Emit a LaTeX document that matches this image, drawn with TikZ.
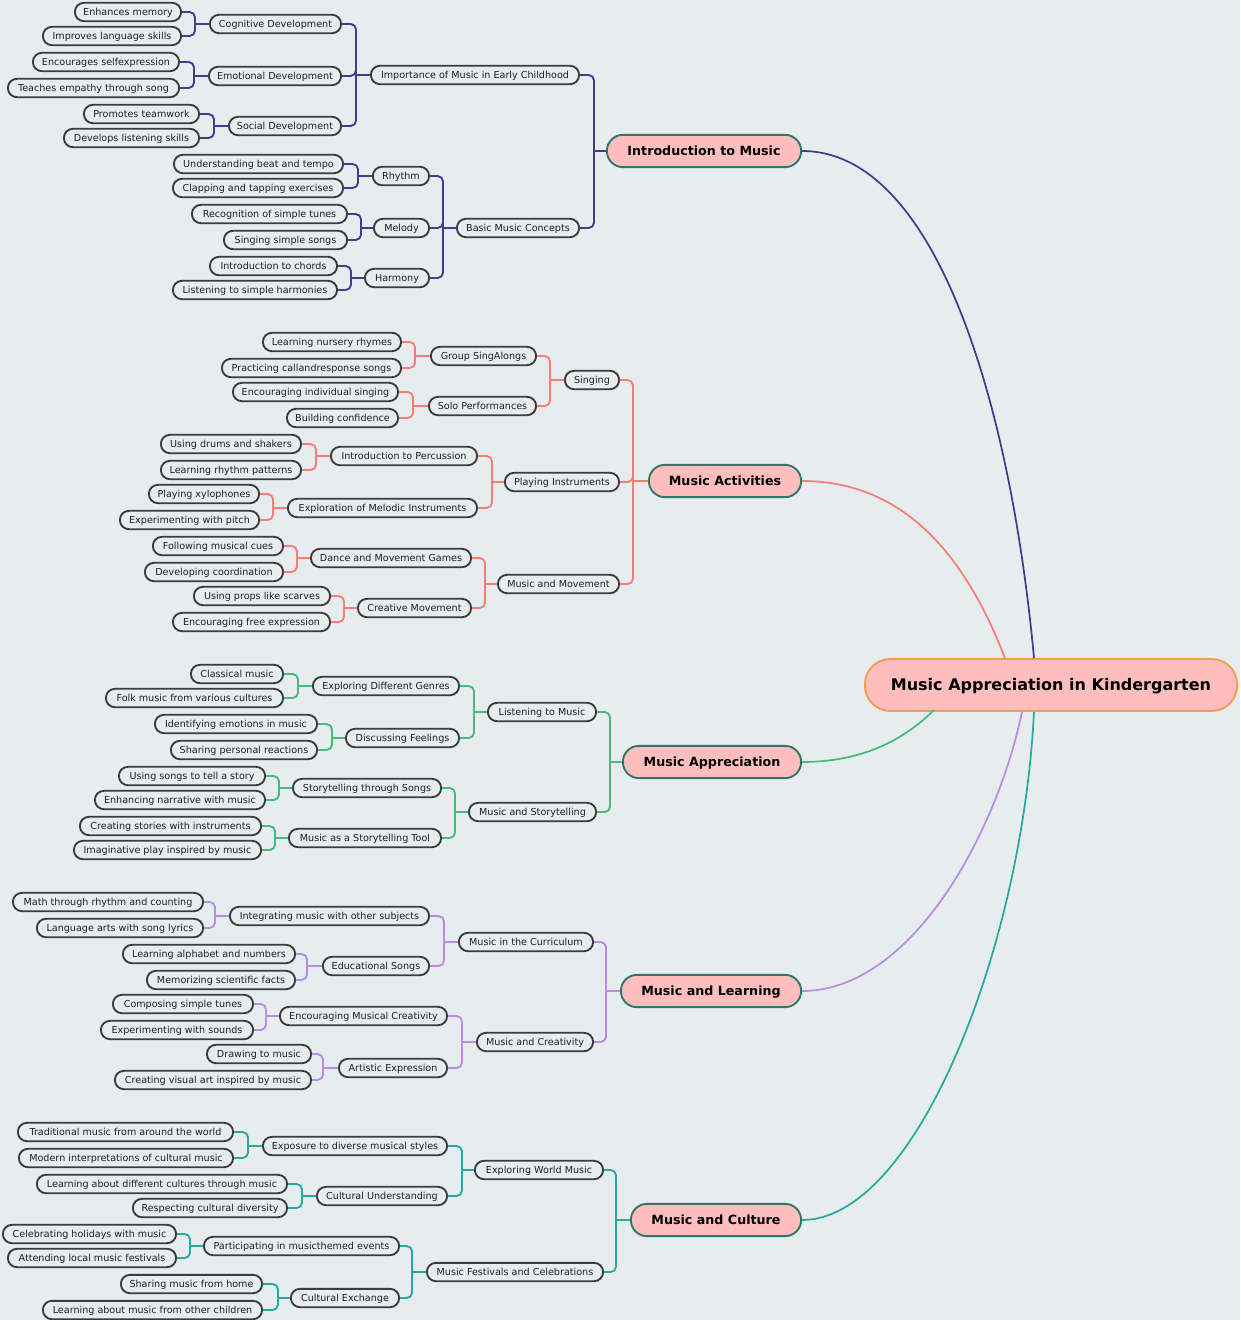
\documentclass[tikz,border=0pt]{standalone}
\usepackage{fontspec}
\setmainfont{DejaVu Sans}
\usetikzlibrary{calc}
\definecolor{cBlue}{RGB}{62,62,140}
\definecolor{cCoral}{RGB}{250,124,118}
\definecolor{cGreen}{RGB}{66,188,122}
\definecolor{cPurple}{RGB}{186,140,226}
\definecolor{cTeal}{RGB}{38,170,160}
\definecolor{cBg}{RGB}{231,236,239}
\definecolor{cBorder}{RGB}{60,60,60}
\definecolor{cPink}{RGB}{255,190,190}
\definecolor{cTopic}{RGB}{48,118,102}
\definecolor{cRoot}{RGB}{240,158,78}
\tikzset{
  leaf/.style={draw=cBorder, fill=cBg, line width=1.4pt, rounded corners=6.8pt, minimum height=13.8pt, inner sep=0pt, text height=6.1pt, text depth=0.6pt, text=black!88, font=\fontsize{7.2}{8}\selectfont},
  topic/.style={draw=cTopic, fill=cPink, line width=1.4pt, rounded corners=12pt, minimum height=24.2pt, inner sep=0pt, text height=7.5pt, text depth=0.5pt, text=black, font=\bfseries\fontsize{9.5}{11}\selectfont},
  rootn/.style={draw=cRoot, fill=cPink, line width=1.4pt, rounded corners=19pt, minimum height=39pt, inner sep=0pt, text height=9.2pt, text depth=0.4pt, text=black, font=\bfseries\fontsize{12}{14}\selectfont},
  conn/.style={line width=1.4pt, rounded corners=4pt},
  curve/.style={line width=1.3pt},
}
\newcommand\mmnode[6][leaf]{%
  \pgfmathsetmacro\mmw{(#4-#3-1.8)*0.75}%
  \pgfmathsetmacro\mmx{(#3+#4)/2}%
  \node[#1, minimum width=\mmw pt] (#2) at (\mmx,#5) {#6};}
\newcommand\mmlink[4]{%
  \coordinate (#2j) at (#3,0 |- #2.west);
  \foreach \cc in {#4} {\draw[conn,#1] (\cc.east) -| (#2j);}
  \draw[conn,#1] (#2j) -- (#2.west);}
\begin{document}
\begin{tikzpicture}[x=0.75pt,y=-0.75pt]
\fill[cBg] (0,0) rectangle (1240,1320);
\useasboundingbox (0,0) rectangle (1240,1320);
% ---------- Introduction to Music ----------
\mmnode{a1}{74}{182}{12}{Enhances memory}
\mmnode{a2}{42}{182}{36}{Improves language skills}
\mmnode{A1}{209}{342}{24}{Cognitive Development}
\mmnode{a3}{32}{180}{62}{Encourages selfexpression}
\mmnode{a4}{7}{180}{88}{Teaches empathy through song}
\mmnode{A2}{208}{342}{76}{Emotional Development}
\mmnode{a5}{83}{200}{114}{Promotes teamwork}
\mmnode{a6}{63}{200}{138}{Develops listening skills}
\mmnode{A3}{228}{342}{126}{Social Development}
\mmnode{AA}{370}{580}{75}{Importance of Music in Early Childhood}
\mmnode{b1}{173}{344}{164}{Understanding beat and tempo}
\mmnode{b2}{172}{344}{188}{Clapping and tapping exercises}
\mmnode{B1}{372}{430}{176}{Rhythm}
\mmnode{b3}{191}{348}{214}{Recognition of simple tunes}
\mmnode{b4}{223}{348}{240}{Singing simple songs}
\mmnode{B2}{373}{430}{228}{Melody}
\mmnode{b5}{209}{338}{266}{Introduction to chords}
\mmnode{b6}{172}{338}{290}{Listening to simple harmonies}
\mmnode{B3}{364}{430}{278}{Harmony}
\mmnode{BB}{456}{580}{228}{Basic Music Concepts}
\mmnode[topic]{T1}{606}{802}{151}{Introduction to Music}
\mmlink{cBlue}{A1}{195}{a1,a2}
\mmlink{cBlue}{A2}{194}{a3,a4}
\mmlink{cBlue}{A3}{214}{a5,a6}
\mmlink{cBlue}{AA}{356}{A1,A2,A3}
\mmlink{cBlue}{B1}{358}{b1,b2}
\mmlink{cBlue}{B2}{361}{b3,b4}
\mmlink{cBlue}{B3}{351}{b5,b6}
\mmlink{cBlue}{BB}{443}{B1,B2,B3}
\mmlink{cBlue}{T1}{594}{AA,BB}
% ---------- Music Activities ----------
\mmnode{c1}{262}{402}{342}{Learning nursery rhymes}
\mmnode{c2}{221}{402}{368}{Practicing callandresponse songs}
\mmnode{C1}{430}{537}{356}{Group SingAlongs}
\mmnode{c3}{232}{399}{392}{Encouraging individual singing}
\mmnode{c4}{286}{399}{418}{Building confidence}
\mmnode{C2}{428}{537}{406}{Solo Performances}
\mmnode{CC}{564}{620}{380}{Singing}
\mmnode{c5}{160}{302}{444}{Using drums and shakers}
\mmnode{c6}{160}{302}{470}{Learning rhythm patterns}
\mmnode{C3}{330}{478}{456}{Introduction to Percussion}
\mmnode{c7}{148}{260}{494}{Playing xylophones}
\mmnode{c8}{119}{260}{520}{Experimenting with pitch}
\mmnode{C4}{287}{478}{508}{Exploration of Melodic Instruments}
\mmnode{CD}{504}{620}{482}{Playing Instruments}
\mmnode{c9}{152}{284}{546}{Following musical cues}
\mmnode{c10}{144}{284}{572}{Developing coordination}
\mmnode{C5}{310}{472}{558}{Dance and Movement Games}
\mmnode{c11}{193}{331}{596}{Using props like scarves}
\mmnode{c12}{172}{331}{622}{Encouraging free expression}
\mmnode{C6}{357}{472}{608}{Creative Movement}
\mmnode{CE}{497}{620}{584}{Music and Movement}
\mmnode[topic]{T2}{648}{802}{481}{Music Activities}
\mmlink{cCoral}{C1}{415}{c1,c2}
\mmlink{cCoral}{C2}{413}{c3,c4}
\mmlink{cCoral}{CC}{550}{C1,C2}
\mmlink{cCoral}{C3}{316}{c5,c6}
\mmlink{cCoral}{C4}{273}{c7,c8}
\mmlink{cCoral}{CD}{492}{C3,C4}
\mmlink{cCoral}{C5}{297}{c9,c10}
\mmlink{cCoral}{C6}{344}{c11,c12}
\mmlink{cCoral}{CE}{485}{C5,C6}
\mmlink{cCoral}{T2}{633}{CC,CD,CE}
% ---------- Music Appreciation ----------
\mmnode{d1}{190}{284}{674}{Classical music}
\mmnode{d2}{105}{284}{698}{Folk music from various cultures}
\mmnode{D1}{312}{460}{686}{Exploring Different Genres}
\mmnode{d3}{154}{318}{724}{Identifying emotions in music}
\mmnode{d4}{170}{318}{750}{Sharing personal reactions}
\mmnode{D2}{345}{460}{738}{Discussing Feelings}
\mmnode{DD}{487}{597}{712}{Listening to Music}
\mmnode{d5}{118}{266}{776}{Using songs to tell a story}
\mmnode{d6}{94}{266}{800}{Enhancing narrative with music}
\mmnode{D3}{292}{442}{788}{Storytelling through Songs}
\mmnode{d7}{79}{262}{826}{Creating stories with instruments}
\mmnode{d8}{73}{262}{850}{Imaginative play inspired by music}
\mmnode{D4}{288}{442}{838}{Music as a Storytelling Tool}
\mmnode{DE}{468}{597}{812}{Music and Storytelling}
\mmnode[topic]{T3}{622}{802}{762}{Music Appreciation}
\mmlink{cGreen}{D1}{298}{d1,d2}
\mmlink{cGreen}{D2}{332}{d3,d4}
\mmlink{cGreen}{DD}{474}{D1,D2}
\mmlink{cGreen}{D3}{279}{d5,d6}
\mmlink{cGreen}{D4}{275}{d7,d8}
\mmlink{cGreen}{DE}{455}{D3,D4}
\mmlink{cGreen}{T3}{610}{DD,DE}
% ---------- Music and Learning ----------
\mmnode{e1}{12}{204}{902}{Math through rhythm and counting}
\mmnode{e2}{36}{204}{928}{Language arts with song lyrics}
\mmnode{E1}{229}{430}{916}{Integrating music with other subjects}
\mmnode{e3}{122}{296}{954}{Learning alphabet and numbers}
\mmnode{e4}{146}{296}{980}{Memorizing scientific facts}
\mmnode{E2}{322}{430}{966}{Educational Songs}
\mmnode{EE}{458}{594}{942}{Music in the Curriculum}
\mmnode{e5}{112}{254}{1004}{Composing simple tunes}
\mmnode{e6}{100}{254}{1030}{Experimenting with sounds}
\mmnode{E3}{279}{448}{1016}{Encouraging Musical Creativity}
\mmnode{e7}{206}{312}{1054}{Drawing to music}
\mmnode{e8}{114}{312}{1080}{Creating visual art inspired by music}
\mmnode{E4}{338}{448}{1068}{Artistic Expression}
\mmnode{EF}{476}{594}{1042}{Music and Creativity}
\mmnode[topic]{T4}{620}{802}{991}{Music and Learning}
\mmlink{cPurple}{E1}{215}{e1,e2}
\mmlink{cPurple}{E2}{307}{e3,e4}
\mmlink{cPurple}{EE}{444}{E1,E2}
\mmlink{cPurple}{E3}{266}{e5,e6}
\mmlink{cPurple}{E4}{323}{e7,e8}
\mmlink{cPurple}{EF}{462}{E3,E4}
\mmlink{cPurple}{T4}{606}{EE,EF}
% ---------- Music and Culture ----------
\mmnode{f1}{17}{234}{1132}{Traditional music from around the world}
\mmnode{f2}{18}{234}{1158}{Modern interpretations of cultural music}
\mmnode{F1}{262}{448}{1146}{Exposure to diverse musical styles}
\mmnode{f3}{36}{288}{1184}{Learning about different cultures through music}
\mmnode{f4}{132}{288}{1208}{Respecting cultural diversity}
\mmnode{F2}{316}{448}{1196}{Cultural Understanding}
\mmnode{FF}{474}{604}{1170}{Exploring World Music}
\mmnode{f5}{2}{177}{1234}{Celebrating holidays with music}
\mmnode{f6}{7}{177}{1258}{Attending local music festivals}
\mmnode{F3}{203}{400}{1246}{Participating in musicthemed events}
\mmnode{f7}{120}{263}{1284}{Sharing music from home}
\mmnode{f8}{42}{263}{1310}{Learning about music from other children}
\mmnode{F4}{290}{400}{1298}{Cultural Exchange}
\mmnode{FG}{426}{604}{1272}{Music Festivals and Celebrations}
\mmnode[topic]{T5}{630}{802}{1220}{Music and Culture}
\mmlink{cTeal}{F1}{248}{f1,f2}
\mmlink{cTeal}{F2}{302}{f3,f4}
\mmlink{cTeal}{FF}{462}{F1,F2}
\mmlink{cTeal}{F3}{190}{f5,f6}
\mmlink{cTeal}{F4}{278}{f7,f8}
\mmlink{cTeal}{FG}{412}{F3,F4}
\mmlink{cTeal}{T5}{616}{FF,FG}
% ---------- Root ----------
\mmnode[rootn]{R}{864}{1238}{685}{Music Appreciation in Kindergarten}
\draw[curve,cBlue] (T1.east) .. controls +(133,0) and +(-24,-258) .. ($(R.north)+(-17,0)$);
\draw[curve,cCoral] (T2.east) .. controls +(110,0) and +(-35,-90) .. ($(R.north)+(-46,0)$);
\draw[curve,cGreen] (T3.east) .. controls +(60,0) and +(-30,30) .. ($(R.south)+(-117,-2)$);
\draw[curve,cPurple] (T4.east) .. controls +(110,0) and +(-25,120) .. ($(R.south)+(-29,0)$);
\draw[curve,cTeal] (T5.east) .. controls +(113,0) and +(-12,238) .. ($(R.south)+(-17,0)$);
\end{tikzpicture}
\end{document}
